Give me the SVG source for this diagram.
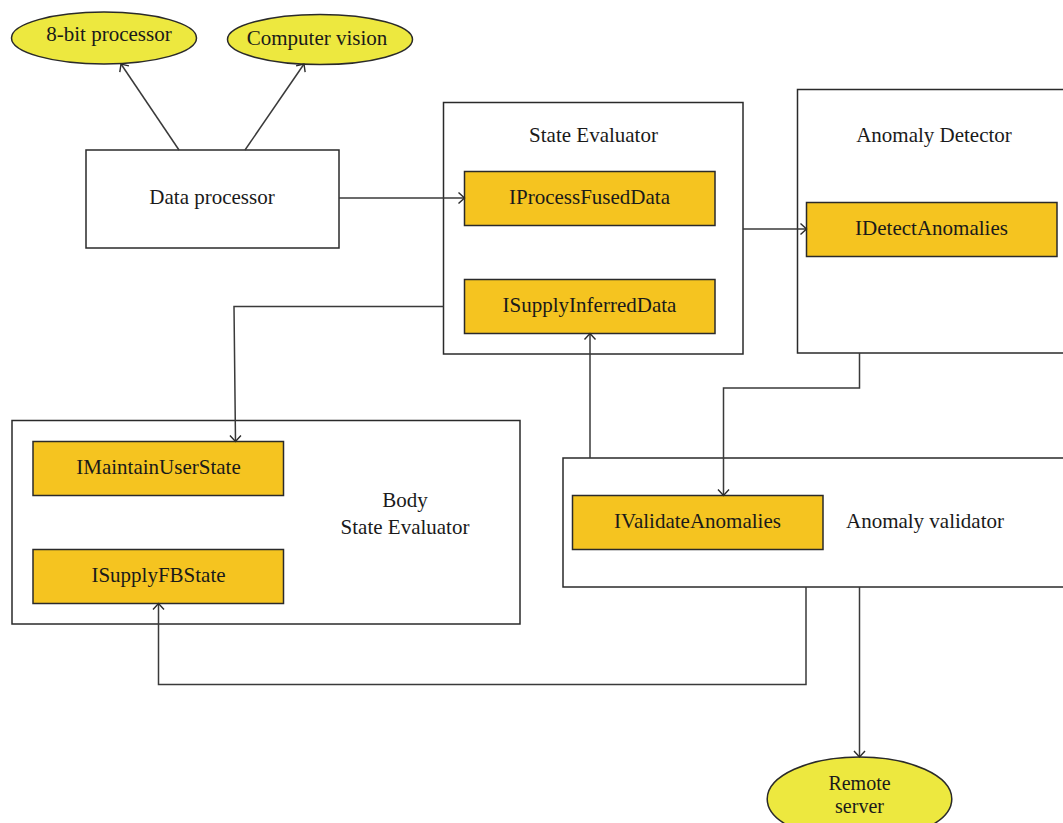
<svg xmlns="http://www.w3.org/2000/svg" width="1063" height="823" viewBox="0 0 1063 823">
  <style>
    text { font-family: "Liberation Serif", "Times New Roman", serif; font-size: 21px; fill: #1a1a1a; text-anchor: middle; }
    .small { font-size: 20px; }
    .comp { fill: #ffffff; stroke: #2a2a2a; stroke-width: 1.5; }
    .iface { fill: #f5c420; stroke: #2a2a2a; stroke-width: 1.5; }
    .ext { fill: #ede83f; stroke: #2a2a2a; stroke-width: 1.5; }
    .wire { fill: none; stroke: #3a3a3a; stroke-width: 1.5; }
  </style>
  <defs>
    <marker id="open" markerUnits="userSpaceOnUse" markerWidth="14" markerHeight="14" refX="10" refY="6" orient="auto" viewBox="0 0 14 12">
      <path d="M4,0.5 L10,6 L4,11.5" fill="none" stroke="#2a2a2a" stroke-width="1.4"/>
    </marker>
  </defs>

  <rect width="1063" height="823" fill="#ffffff"/>

  <!-- external actors -->
  <g id="eight-bit-processor">
    <ellipse class="ext" cx="104" cy="38" rx="92.5" ry="26"/>
    <text x="109" y="41">8-bit processor</text>
  </g>
  <g id="computer-vision">
    <ellipse class="ext" cx="320" cy="39.5" rx="92.5" ry="25"/>
    <text x="317" y="45">Computer vision</text>
  </g>
  <g id="remote-server">
    <ellipse class="ext" cx="859.5" cy="799" rx="92.3" ry="42"/>
    <text class="small" x="859.5" y="790">Remote</text>
    <text class="small" x="859.5" y="813">server</text>
  </g>

  <!-- components -->
  <g id="data-processor">
    <rect class="comp" x="86" y="150" width="253" height="98"/>
    <text x="212" y="204">Data processor</text>
  </g>

  <g id="state-evaluator">
    <rect class="comp" x="443.5" y="102.5" width="299.5" height="251.5"/>
    <text x="593.5" y="142">State Evaluator</text>
    <g id="iprocess-fused-data">
      <rect class="iface" x="464.5" y="171.5" width="250.5" height="54"/>
      <text x="589.5" y="204">IProcessFusedData</text>
    </g>
    <g id="isupply-inferred-data">
      <rect class="iface" x="464.5" y="279.5" width="250.5" height="54"/>
      <text x="589.5" y="311.5">ISupplyInferredData</text>
    </g>
  </g>

  <g id="anomaly-detector">
    <rect class="comp" x="797.5" y="89.5" width="275" height="263.5"/>
    <text x="934" y="142">Anomaly Detector</text>
    <g id="idetect-anomalies">
      <rect class="iface" x="806.5" y="202.5" width="250.5" height="54"/>
      <text x="931.5" y="235">IDetectAnomalies</text>
    </g>
  </g>

  <g id="body-state-evaluator">
    <rect class="comp" x="12" y="420.5" width="508" height="203.5"/>
    <text x="405" y="506.5">Body</text>
    <text x="405" y="534">State Evaluator</text>
    <g id="imaintain-user-state">
      <rect class="iface" x="33" y="441.5" width="250.5" height="54"/>
      <text x="158.5" y="474">IMaintainUserState</text>
    </g>
    <g id="isupply-fb-state">
      <rect class="iface" x="33" y="549.5" width="250.5" height="54"/>
      <text x="158.5" y="582">ISupplyFBState</text>
    </g>
  </g>

  <g id="anomaly-validator">
    <rect class="comp" x="563" y="458" width="510" height="129"/>
    <text x="925" y="528">Anomaly validator</text>
    <g id="ivalidate-anomalies">
      <rect class="iface" x="572.5" y="495.5" width="250.5" height="54"/>
      <text x="697.5" y="528">IValidateAnomalies</text>
    </g>
  </g>

  <!-- connectors -->
  <g id="connectors">
    <line class="wire" x1="179" y1="150" x2="121" y2="64" marker-end="url(#open)"/>
    <line class="wire" x1="245" y1="150" x2="304" y2="64" marker-end="url(#open)"/>
    <line class="wire" x1="339" y1="198" x2="464.5" y2="198" marker-end="url(#open)"/>
    <line class="wire" x1="743" y1="229" x2="806.5" y2="229" marker-end="url(#open)"/>
    <polyline class="wire" points="443.5,306.5 234,306.5 235.5,441.5" marker-end="url(#open)"/>
    <line class="wire" x1="590" y1="458" x2="590" y2="333.5" marker-end="url(#open)"/>
    <polyline class="wire" points="859.5,353 859.5,388 723.5,388 723.5,495.5" marker-end="url(#open)"/>
    <polyline class="wire" points="806,587 806,684.5 158.5,684.5 158.5,603.5" marker-end="url(#open)"/>
    <line class="wire" x1="859.5" y1="587" x2="859.5" y2="757" marker-end="url(#open)"/>
  </g>
</svg>
